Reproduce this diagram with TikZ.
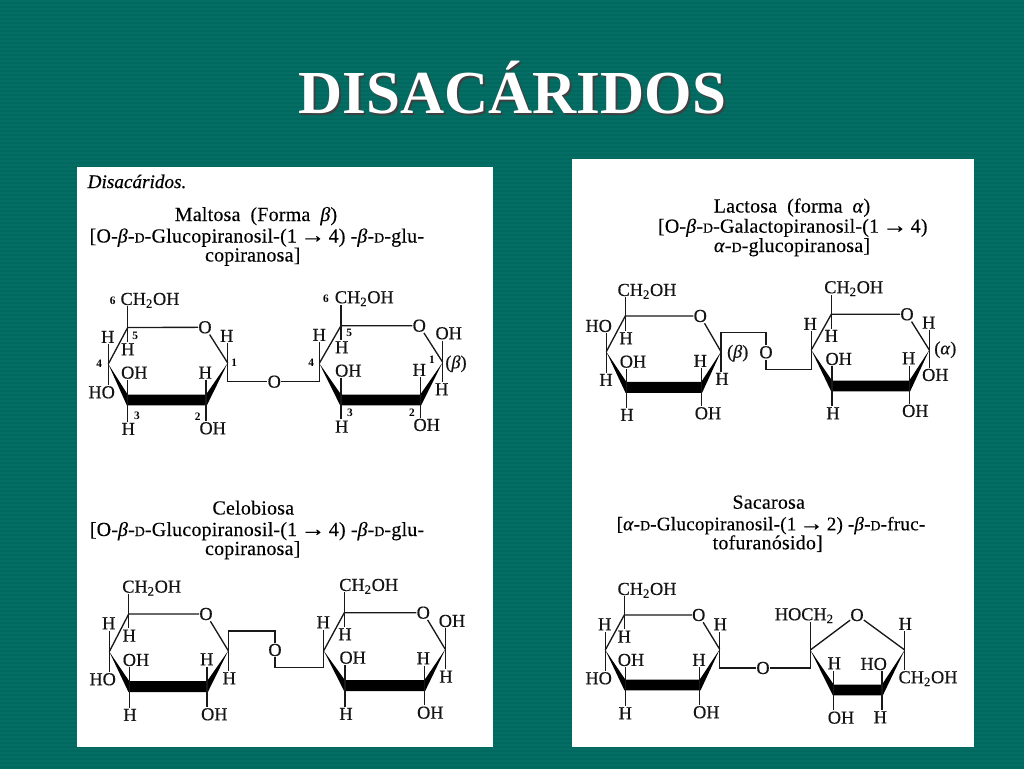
\documentclass[tikz,border=0pt]{standalone}
\usepackage{fontspec}
\setmainfont{Liberation Serif}
\newfontfamily\labfont[FakeBold=0.5]{Liberation Serif}
\newfontfamily\headfont[FakeBold=0.2,LetterSpace=1.0]{Liberation Serif}
\usetikzlibrary{calc}
\definecolor{teal1}{HTML}{00695F}
\definecolor{teal2}{HTML}{056D63}
\tikzset{
  x=0.75pt,y=-0.75pt,
  lab/.style={font=\fontsize{13.7}{15}\labfont,text=black!92,inner xsep=0pt,inner ysep=0.8pt,text height=8.9pt,text depth=0pt},
  dig/.style={font=\fontsize{8.5}{9}\selectfont\bfseries,inner sep=0pt},
  head/.style={font=\fontsize{15}{18}\headfont,inner ysep=0pt,inner xsep=0pt,text height=9pt,text depth=0pt},
  bond/.style={line width=1pt,black!90},
  panel/.style={fill=white,draw=none},
}
\newcommand{\bt}{\textit{β}}
\newcommand{\at}{\textit{α}}
\newcommand{\Dsc}{{\fontsize{10.5}{12}\selectfont D}}
\newcommand{\arr}{\scalebox{1.25}[1.1]{→}}
% prefix, C5, O, C1, C2, C3, C4
\newcommand{\pyr}[7]{%
  \coordinate (#15) at (#2);
  \node[lab] (#1O) at (#3) {O};
  \coordinate (#11) at (#4);
  \coordinate (#12) at (#5);
  \coordinate (#13) at (#6);
  \coordinate (#14) at (#7);
  \draw[bond] (#14) -- (#15) -- (#1O);
  \draw[bond] (#1O) -- (#11);
  \fill[black] (#14) -- ([yshift=4.1pt]#13) -- ([yshift=4.1pt]#12) -- (#11) -- ([yshift=-4.1pt,xshift=0.6pt]#12) -- ([yshift=-4.1pt,xshift=-0.6pt]#13) -- cycle;
}
\newcommand{\upb}[2]{\draw[bond] (#1) -- (#1 |- #2.south);}
\newcommand{\dnb}[2]{\draw[bond] (#1) -- (#1 |- #2.north);}
\begin{document}
\begin{tikzpicture}
\useasboundingbox (0,0) rectangle (1024,768);
\fill[teal1] (0,0) rectangle (1024,768);
\foreach \yy in {0,4,...,768} {\fill[teal2] (0,\yy) rectangle (1024,\yy+2);}
\node[font=\fontsize{45.8}{50}\selectfont\bfseries,text=black!75,inner sep=0pt] (titleshadow) at (514.5,90) {DISACÁRIDOS};
\node[font=\fontsize{45.8}{50}\selectfont\bfseries,text=white,inner sep=0pt] (title) at (512.5,88) {DISACÁRIDOS};
\fill[panel] (77,167) rectangle (493,747);
\fill[panel] (572,159) rectangle (974,747);

% ===== Maltosa =====
\node[font=\fontsize{14.4}{16}\labfont\itshape,inner sep=0pt] (t0) at (137,181.5) {\textit{Disacáridos.}};
\node[head] (m1) at (256,215) {Maltosa\enspace(Forma\enspace\bt)};
\node[head] (m2) at (256.8,236.5) {[O-\bt-\Dsc-Glucopiranosil-(1\,\arr\,4) -\bt-\Dsc-glu-};
\node[head] (m3) at (252.7,255.5) {copiranosa]};
\pyr{a}{127.7,327.5}{205,327.3}{227.7,363}{206,400}{127.7,400}{108.3,364}
\node[lab] (a6l) at (150,299) {CH\textsubscript{2}OH};
\node[lab] (aH4) at (107.7,337) {H};
\node[lab] (aH5) at (127.7,349.3) {H};
\node[lab] (aH1) at (226.7,336) {H};
\node[lab] (aOH3) at (134.3,372.7) {OH};
\node[lab] (aH2) at (205.3,372.7) {H};
\node[lab] (aHO4) at (101.7,392.3) {HO};
\node[lab] (aH3) at (128.3,429) {H};
\node[lab] (aOH2) at (212.7,428.3) {OH};
\node[dig] (ad6) at (112.7,301) {6};
\node[dig] (ad5) at (135.3,335.7) {5};
\node[dig] (ad1) at (234.3,363) {1};
\node[dig] (ad4) at (99.3,364) {4};
\node[dig] (ad3) at (137,415.5) {3};
\node[dig] (ad2) at (197.7,416.5) {2};
\upb{a5}{a6l} \dnb{a5}{aH5} \upb{a4}{aH4} \dnb{a4}{aHO4} \upb{a3}{aOH3} \dnb{a3}{aH3} \upb{a2}{aH2} \dnb{a2}{aOH2} \upb{a1}{aH1}
\pyr{b}{341,325.7}{419.3,325.7}{442.7,362.3}{420.3,400}{341,400}{319.3,363.3}
\node[lab] (b6l) at (364.3,297.3) {CH\textsubscript{2}OH};
\node[lab] (bH4) at (319.3,335) {H};
\node[lab] (bH5) at (341.7,347.3) {H};
\node[lab] (bOH1) at (448.7,333.3) {OH};
\node[lab] (bOH3) at (348.3,370.7) {OH};
\node[lab] (bH2) at (419.3,370) {H};
\node[lab] (bH1) at (441.7,389.3) {H};
\node[lab] (bH3) at (341.7,426.7) {H};
\node[lab] (bOH2) at (426.7,425) {OH};
\node[lab] (bbeta) at (456,362.3) {(\bt)};
\node[dig] (bd6) at (326,299) {6};
\node[dig] (bd5) at (349.3,333.3) {5};
\node[dig] (bd1) at (432,360) {1};
\node[dig] (bd4) at (311.3,362.3) {4};
\node[dig] (bd3) at (350,412.3) {3};
\node[dig] (bd2) at (412,412.3) {2};
\upb{b5}{b6l} \dnb{b5}{bH5} \upb{b4}{bH4} \upb{b3}{bOH3} \dnb{b3}{bH3} \upb{b2}{bH2} \dnb{b2}{bOH2} \upb{b1}{bOH1} \dnb{b1}{bH1}
\node[lab] (abO) at (274.3,381.7) {O};
\draw[bond] (a1) |- (abO.west);
\draw[bond] (abO.east) -| (b4);

% ===== Celobiosa =====
\node[head] (c1) at (253.3,508.5) {Celobiosa};
\node[head] (c2) at (257,530) {[O-\bt-\Dsc-Glucopiranosil-(1\,\arr\,4) -\bt-\Dsc-glu-};
\node[head] (c3) at (252.7,549) {copiranosa]};
\pyr{c}{128.7,614}{206,614}{228.3,650.7}{207,686.7}{129.3,686.7}{109.3,651.7}
\node[lab] (c6l) at (151.7,586.7) {CH\textsubscript{2}OH};
\node[lab] (cH4) at (108.7,623.3) {H};
\node[lab] (cH5) at (129.3,635.7) {H};
\node[lab] (cOH3) at (136,660) {OH};
\node[lab] (cH2) at (206.7,659.3) {H};
\node[lab] (cHO4) at (102.7,679.3) {HO};
\node[lab] (cH3) at (130,715) {H};
\node[lab] (cOH2) at (214.3,714.3) {OH};
\node[lab] (cH1) at (229.3,678.3) {H};
\upb{c5}{c6l} \dnb{c5}{cH5} \upb{c4}{cH4} \dnb{c4}{cHO4} \upb{c3}{cOH3} \dnb{c3}{cH3} \upb{c2}{cH2} \dnb{c2}{cOH2} \dnb{c1}{cH1}
\pyr{d}{344.3,612.7}{423.3,612.7}{445.3,649.3}{424.3,685.7}{345,685.7}{323.7,650.7}
\node[lab] (d6l) at (368.7,585) {CH\textsubscript{2}OH};
\node[lab] (dH4) at (323.3,622.3) {H};
\node[lab] (dH5) at (345,634.3) {H};
\node[lab] (dOH1) at (452,621) {OH};
\node[lab] (dOH3) at (352.7,657.7) {OH};
\node[lab] (dH2) at (423.3,658.3) {H};
\node[lab] (dH1) at (446,676.7) {H};
\node[lab] (dH3) at (346,714) {H};
\node[lab] (dOH2) at (430.3,712.7) {OH};
\upb{d5}{d6l} \dnb{d5}{dH5} \upb{d4}{dH4} \upb{d3}{dOH3} \dnb{d3}{dH3} \upb{d2}{dH2} \dnb{d2}{dOH2} \upb{d1}{dOH1} \dnb{d1}{dH1}
\node[lab] (cdO) at (275,650) {O};
\coordinate (cdA) at (228.3,631);
\coordinate (cdB) at (323.7,667.3);
\draw[bond] (c1) -- (cdA) -- (cdA -| cdO) -- (cdO.north);
\draw[bond] (cdO.south) -- (cdO |- cdB) -- (cdB) -- (d4);

% ===== Lactosa =====
\node[head] (l1) at (792,206.5) {Lactosa\enspace(forma\enspace\at)};
\node[head] (l2) at (792.8,226.7) {[O-\bt-\Dsc-Galactopiranosil-(1\,\arr\,4)};
\node[head] (l3) at (792,246) {\at-\Dsc-glucopiranosa]};
\pyr{e}{625.3,316}{700.3,316}{721,351.7}{701.3,387.3}{626.3,387.3}{606.3,351.7}
\node[lab] (e6l) at (647,290) {CH\textsubscript{2}OH};
\node[lab] (eHO4) at (598.7,326) {HO};
\node[lab] (eH5) at (626,338.3) {H};
\node[lab] (eOH3) at (633,361.7) {OH};
\node[lab] (eH2) at (700.3,361) {H};
\node[lab] (eH4) at (606,380) {H};
\node[lab] (eH3) at (627,415) {H};
\node[lab] (eOH2) at (708,413.3) {OH};
\node[lab] (eH1) at (722,379) {H};
\node[lab] (ebeta) at (737.7,351.7) {(\bt)};
\upb{e5}{e6l} \dnb{e5}{eH5} \upb{e4}{eHO4} \dnb{e4}{eH4} \upb{e3}{eOH3} \dnb{e3}{eH3} \upb{e2}{eH2} \dnb{e2}{eOH2} \dnb{e1}{eH1}
\pyr{f}{831.3,314.3}{907,314.3}{929.3,350}{909.3,386}{832,386}{811.3,350}
\node[lab] (f6l) at (853.7,287.3) {CH\textsubscript{2}OH};
\node[lab] (fH4) at (810.3,324) {H};
\node[lab] (fH5) at (831.3,336) {H};
\node[lab] (fH1) at (928.7,322.7) {H};
\node[lab] (falpha) at (945.3,348.3) {(\at)};
\node[lab] (fOH3) at (838.7,359) {OH};
\node[lab] (fH2) at (908.7,358.3) {H};
\node[lab] (fOH1) at (935.3,375) {OH};
\node[lab] (fH3) at (833,413.3) {H};
\node[lab] (fOH2) at (915.3,411) {OH};
\upb{f5}{f6l} \dnb{f5}{fH5} \upb{f4}{fH4} \upb{f3}{fOH3} \dnb{f3}{fH3} \upb{f2}{fH2} \dnb{f2}{fOH2} \upb{f1}{fH1} \dnb{f1}{fOH1}
\node[lab] (efO) at (766,352.3) {O};
\coordinate (efA) at (721,332.7);
\coordinate (efB) at (811.3,369.3);
\draw[bond] (e1) -- (efA) -- (efA -| efO) -- (efO.north);
\draw[bond] (efO.south) -- (efO |- efB) -- (efB) -- (f4);

% ===== Sacarosa =====
\node[head] (s1) at (768.7,502.7) {Sacarosa};
\node[head,font=\fontsize{14.4}{18}\headfont] (s2) at (771,524.3) {[\at-\Dsc-Glucopiranosil-(1\,\arr\,2) -\bt-\Dsc-fruc-};
\node[head] (s3) at (767.7,543.3) {tofuranósido]};
\pyr{g}{624.3,615}{698.7,615}{719.7,649.3}{699.7,685}{625.3,685}{605.3,650}
\node[lab] (g6l) at (647,589) {CH\textsubscript{2}OH};
\node[lab] (gH4) at (604.7,624.3) {H};
\node[lab] (gH5) at (624.3,636.7) {H};
\node[lab] (gH1) at (720.3,624.3) {H};
\node[lab] (gOH3) at (631,660) {OH};
\node[lab] (gH2) at (699,660) {H};
\node[lab] (gHO4) at (598.7,678.3) {HO};
\node[lab] (gH3) at (625.3,713.3) {H};
\node[lab] (gOH2) at (706.3,712.3) {OH};
\upb{g5}{g6l} \dnb{g5}{gH5} \upb{g4}{gH4} \dnb{g4}{gHO4} \upb{g3}{gOH3} \dnb{g3}{gH3} \upb{g2}{gH2} \dnb{g2}{gOH2} \upb{g1}{gH1}
% furanose
\coordinate (h2) at (810.3,650);
\node[lab] (hO) at (857,615) {O};
\coordinate (h5) at (904.7,650);
\coordinate (h4) at (882,690);
\coordinate (h3) at (833.7,690);
\draw[bond] (h2) -- (hO) -- (h5);
\fill[black] (h2) -- ([yshift=4.1pt]h3) -- ([yshift=4.1pt]h4) -- (h5) -- ([yshift=-4.1pt,xshift=0.6pt]h4) -- ([yshift=-4.1pt,xshift=-0.6pt]h3) -- cycle;
\node[lab] (hCH) at (804.3,614.3) {HOCH\textsubscript{2}};
\node[lab] (hH5) at (905.3,624) {H};
\node[lab] (hH3) at (834.3,663.3) {H};
\node[lab] (hHO) at (873.7,664) {HO};
\node[lab] (hCH2) at (928,677.3) {CH\textsubscript{2}OH};
\node[lab] (hOH) at (841,717.7) {OH};
\node[lab] (hH4) at (880.3,717.3) {H};
\draw[bond] (h2) -- (h2 |- hCH.south);
\upb{h5}{hH5} \dnb{h5}{hCH2} \upb{h3}{hH3} \dnb{h3}{hOH} \upb{h4}{hHO} \dnb{h4}{hH4}
\node[lab] (ghO) at (763,668) {O};
\draw[bond] (g1) |- (ghO.west);
\draw[bond] (ghO.east) -| (h2);
\end{tikzpicture}
\end{document}
